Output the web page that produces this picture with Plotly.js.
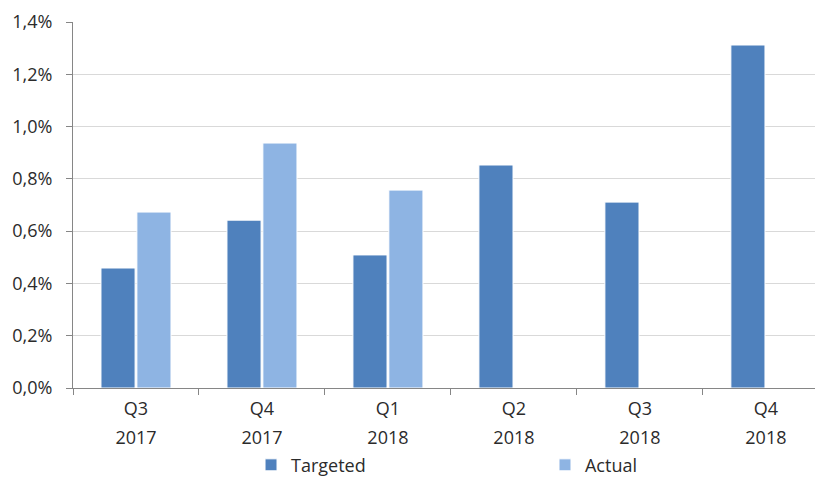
<!DOCTYPE html>
<html>
<head>
<meta charset="utf-8">
<script src="https://cdn.plot.ly/plotly-3.0.1.min.js"></script>
<style>html,body{margin:0;padding:0;background:#fff}#chart{width:815px;height:480px}</style>
</head>
<body>
<div id="chart"></div>
<script>
const categories = ["Q3 2017", "Q4 2017", "Q1 2018", "Q2 2018", "Q3 2018", "Q4 2018"];
const quarters = ["Q3", "Q4", "Q1", "Q2", "Q3", "Q4"];
const years = ["2017", "2017", "2018", "2018", "2018", "2018"];
const targeted = [0.00459, 0.00642, 0.00509, 0.00853, 0.00711, 0.01312];
const actual = [0.00673, 0.00937, 0.00757, null, null, null];
const yTicks = [0, 0.002, 0.004, 0.006, 0.008, 0.010, 0.012, 0.014];

const font = {family: "Open Sans, Liberation Sans, sans-serif", size: 18, color: "#2b2b2b"};
const idx = categories.map((c, i) => i);
const xRange = [-0.5, 5.39];

const traces = [
  {type: "bar", name: "Targeted", x: categories, y: targeted, legend: "legend",
   marker: {color: "#4F81BD", line: {color: "#ffffff", width: 1}}},
  {type: "bar", name: "Actual", x: categories, y: actual, legend: "legend2",
   marker: {color: "#8EB4E3", line: {color: "#ffffff", width: 1}}},
  {type: "scatter", mode: "markers", x: idx, y: idx.map(() => null), xaxis: "x2",
   showlegend: false, hoverinfo: "skip"}
];

const legendBase = {orientation: "h", xref: "container", yref: "container",
                    y: 0.031, yanchor: "middle", xanchor: "left",
                    font: font, bgcolor: "rgba(0,0,0,0)"};

const layout = {
  width: 815, height: 480,
  margin: {l: 73, r: 0, t: 22, b: 92},
  paper_bgcolor: "#fff", plot_bgcolor: "#fff",
  font: font,
  separators: ", ",
  barmode: "group",
  bargap: 0.43,
  bargroupgap: 0.05,
  showlegend: true,
  legend: Object.assign({}, legendBase, {x: 0.308}),
  legend2: Object.assign({}, legendBase, {x: 0.6687}),
  xaxis: {type: "category", range: xRange, showline: true, linecolor: "#868686", linewidth: 1,
          ticks: "outside", tickson: "boundaries", ticklen: 6, tickcolor: "#868686",
          tickmode: "array", tickvals: categories, ticktext: quarters,
          showgrid: false, tickfont: font, ticklabelstandoff: 4},
  xaxis2: {overlaying: "x", anchor: "y", side: "bottom", range: xRange, type: "linear",
           tickmode: "array", tickvals: idx, ticktext: years, showline: false, ticks: "",
           showgrid: false, zeroline: false, tickfont: font, ticklabelstandoff: 37},
  yaxis: {range: [0, 0.014], tickvals: yTicks, tickformat: ".1%", showline: true, linecolor: "#868686",
          linewidth: 1, ticks: "outside", ticklen: 6, tickcolor: "#868686",
          gridcolor: "#d9d9d9", gridwidth: 1, zeroline: false, tickfont: font, ticklabelstandoff: 10}
};

Plotly.newPlot("chart", traces, layout, {staticPlot: true, displayModeBar: false});
</script>
</body>
</html>
